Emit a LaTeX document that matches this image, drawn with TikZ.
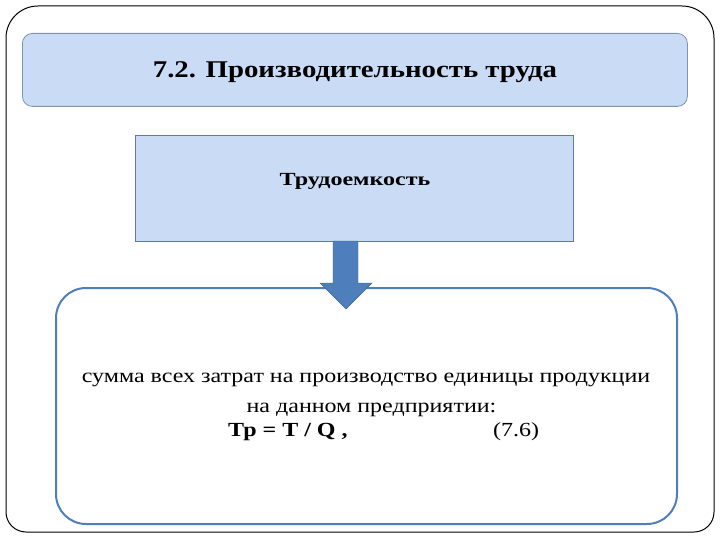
\documentclass[tikz,border=0pt]{standalone}
\usepackage{fontspec}
\setmainfont{Liberation Serif}
\newfontfamily\wideserif[FakeStretch=1.2]{Liberation Serif}
\newfontfamily\widerserif[FakeStretch=1.3]{Liberation Serif}
\begin{document}
\begin{tikzpicture}[x=1pt,y=-1pt,
  titlebox/.style={draw=titleedge, line width=0.8pt, fill=boxfill, rounded corners=10pt},
  termbox/.style={draw=termedge, line width=0.8pt, fill=boxfill},
  defbox/.style={draw=arrowblue, line width=2pt, fill=white, rounded corners=30pt},
  blockarrow/.style={fill=arrowblue, draw=arrowblue!80!black, line width=0.4pt},
  deftxt/.style={inner sep=0pt, font=\wideserif\fontsize{20}{24}\selectfont}
]
\definecolor{boxfill}{HTML}{C9DBF5}
\definecolor{titleedge}{HTML}{7F93AE}
\definecolor{termedge}{HTML}{5C7BA8}
\definecolor{arrowblue}{HTML}{4F7EBD}
\useasboundingbox (0,0) rectangle (720,540);
% outer frame
\draw[line width=1pt] (6,270) [rounded corners=32pt] -- (6,6) -- (714,6) -- (714,270)
  [rounded corners=20pt] -- (714,532) -- (6,532) -- cycle;
% title
\node[titlebox, minimum width=665pt, minimum height=73pt, anchor=north west] (title) at (22,33) {};
\node[inner sep=0pt, anchor=base, font=\wideserif\bfseries\fontsize{24}{28}\selectfont] (titletext) at (355,78) {7.2. Производительность труда};
% term box
\node[termbox, minimum width=438pt, minimum height=106pt, anchor=north west] (term) at (135,135) {};
\node[inner sep=0pt, anchor=base, font=\widerserif\bfseries\fontsize{18.5}{22}\selectfont] (termtext) at (355,186) {Трудоемкость};
% definition box
\node[defbox, minimum width=621pt, minimum height=236pt, anchor=north west] (def) at (55,287) {};
\node[deftxt, anchor=base] (line1) at (366,382) {сумма всех затрат на производство единицы продукции};
\node[deftxt, anchor=base] (line2) at (371.5,412) {на данном предприятии:};
\node[deftxt, anchor=base west, font=\wideserif\bfseries\fontsize{20}{24}\selectfont] (line3a) at (228,436) {Тр = Т / Q ,};
\node[deftxt, anchor=base west] (line3b) at (493,436) {(7.6)};
% arrow
\coordinate (atip) at (346,309);
\draw[blockarrow] (333,241) -- (333,283) -- (320,283)
  -- (atip) -- (372,283) -- (358,283) -- (358,241) -- cycle;
\end{tikzpicture}
\end{document}
